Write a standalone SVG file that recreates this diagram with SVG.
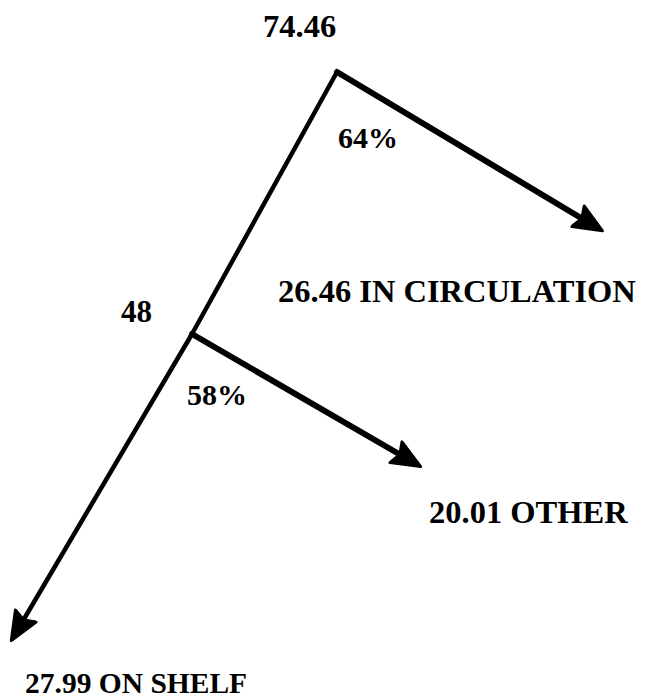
<svg xmlns="http://www.w3.org/2000/svg" width="647" height="699" viewBox="0 0 647 699">
<style>
.lbl{font-family:"Liberation Serif","Times New Roman",serif;font-weight:bold;font-size:32.5px;fill:#000}
.pct{font-family:"Liberation Serif","Times New Roman",serif;font-weight:bold;font-size:30px;fill:#000}
.main{stroke:#000;stroke-width:4.5;fill:none;stroke-linecap:round}
.br{stroke:#000;stroke-width:6;fill:none;stroke-linecap:round}
</style>
<defs>
<marker id="ah" markerUnits="userSpaceOnUse" viewBox="0 0 32 28" refX="5" refY="14" markerWidth="32" markerHeight="28" orient="auto">
<path d="M1.5,2 L30,14 L1.5,26 L6,14 Z" fill="#000" stroke="#000" stroke-width="3" stroke-linejoin="round"/>
</marker>
</defs>
<rect width="647" height="699" fill="#fff"/>
<g id="connectors">
<line class="main" x1="337" y1="72" x2="192" y2="334"/>
<line class="main" x1="192" y1="334" x2="24" y2="619" marker-end="url(#ah)"/>
<line class="br" x1="337" y1="72" x2="581" y2="218" marker-end="url(#ah)"/>
<line class="br" x1="192" y1="334" x2="399" y2="454" marker-end="url(#ah)"/>
</g>
<g id="n-total"><text class="lbl" x="263" y="37" font-size="31">74.46</text></g>
<g id="p-64"><text class="pct" x="338" y="148">64%</text></g>
<g id="n-circ"><text class="lbl" x="278" y="302">26.46 IN CIRCULATION</text></g>
<g id="n-48"><text class="lbl" x="121" y="322" style="font-size:31px">48</text></g>
<g id="p-58"><text class="pct" x="187" y="405">58%</text></g>
<g id="n-other"><text class="lbl" x="429" y="523">20.01 OTHER</text></g>
<g id="n-shelf"><text class="lbl" x="25" y="693" style="font-size:29.5px">27.99 ON SHELF</text></g>
</svg>
